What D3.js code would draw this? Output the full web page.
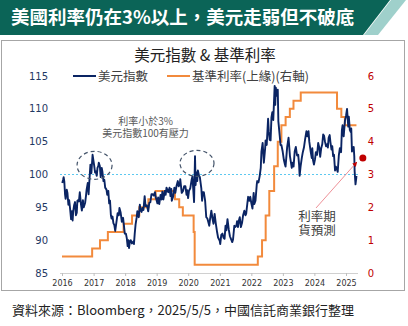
<!DOCTYPE html>
<meta charset="utf-8">
<script src="https://d3js.org/d3.v7.min.js"></script>
<style>
  body { margin: 0; background: #fff; }
  text { font-family: "Noto Sans CJK TC", "Noto Sans", sans-serif; }
</style>
<div id="my_dataviz"></div>

<script>
// US Dollar Index (DXY)
var dxy = [
  // 2016
  ["2016-01-04", 98.7], ["2016-01-14", 99.2], ["2016-01-20", 99.6], ["2016-01-28", 98.9],
  ["2016-02-05", 97.0], ["2016-02-12", 96.3], ["2016-02-25", 97.7], ["2016-03-04", 97.2],
  ["2016-03-15", 95.4], ["2016-03-24", 96.1], ["2016-04-05", 94.6], ["2016-04-15", 93.2],
  ["2016-04-25", 94.4], ["2016-05-03", 93.0], ["2016-05-10", 94.4], ["2016-05-20", 95.3],
  ["2016-05-31", 95.8], ["2016-06-10", 93.8], ["2016-06-20", 94.2], ["2016-06-27", 96.0],
  ["2016-07-08", 96.1], ["2016-07-15", 95.9], ["2016-07-25", 97.3], ["2016-08-08", 95.4],
  ["2016-08-18", 94.5], ["2016-08-30", 96.1], ["2016-09-09", 95.0], ["2016-09-25", 95.7],
  ["2016-10-05", 96.8], ["2016-10-12", 97.7], ["2016-10-25", 98.7], ["2016-11-04", 97.0],
  ["2016-11-20", 100.5], ["2016-11-25", 101.5], ["2016-12-06", 100.2], ["2016-12-20", 103.0],
  // 2017
  ["2017-01-08", 101.3], ["2017-01-18", 100.3], ["2017-01-26", 100.5], ["2017-02-06", 99.8],
  ["2017-02-15", 101.0], ["2017-02-25", 101.3], ["2017-03-02", 101.8], ["2017-03-14", 101.3],
  ["2017-03-24", 99.6], ["2017-04-05", 101.0], ["2017-04-12", 100.5], ["2017-04-25", 99.0],
  ["2017-05-05", 99.2], ["2017-05-15", 98.0], ["2017-05-30", 97.7], ["2017-06-08", 96.9],
  ["2017-06-20", 97.5], ["2017-06-30", 95.6], ["2017-07-10", 96.0], ["2017-07-20", 93.8],
  ["2017-07-28", 93.3], ["2017-08-08", 93.6], ["2017-08-18", 92.6], ["2017-08-29", 92.3],
  ["2017-09-08", 91.4], ["2017-09-25", 93.0], ["2017-10-06", 94.1], ["2017-10-20", 93.8],
  ["2017-10-27", 94.9], ["2017-11-10", 94.2], ["2017-11-24", 92.8], ["2017-12-08", 93.4],
  ["2017-12-15", 92.6], ["2017-12-28", 91.0],
  // 2018
  ["2018-01-10", 91.0], ["2018-01-20", 90.3], ["2018-01-30", 89.1], ["2018-02-08", 90.0],
  ["2018-02-15", 88.8], ["2018-02-25", 89.8], ["2018-03-08", 90.0], ["2018-03-20", 89.5],
  ["2018-04-05", 89.8], ["2018-04-13", 89.4], ["2018-04-22", 91.0], ["2018-05-02", 92.4],
  ["2018-05-15", 93.5], ["2018-05-22", 94.4], ["2018-05-30", 94.0], ["2018-06-08", 93.5],
  ["2018-06-20", 95.4], ["2018-06-28", 94.6], ["2018-07-10", 94.3], ["2018-07-20", 94.9],
  ["2018-08-01", 94.6], ["2018-08-15", 96.7], ["2018-08-25", 95.2], ["2018-09-10", 95.3],
  ["2018-09-25", 94.4], ["2018-10-08", 95.7], ["2018-10-20", 95.8], ["2018-11-02", 97.0],
  ["2018-11-15", 97.0], ["2018-11-28", 96.8], ["2018-12-12", 97.3], ["2018-12-20", 96.6],
  // 2019
  ["2019-01-10", 95.6], ["2019-01-18", 96.5], ["2019-01-31", 95.5], ["2019-02-15", 96.9],
  ["2019-02-28", 96.2], ["2019-03-08", 97.4], ["2019-03-20", 96.2], ["2019-04-05", 97.5],
  ["2019-04-15", 96.9], ["2019-04-25", 98.0], ["2019-05-15", 97.3], ["2019-05-30", 98.0],
  ["2019-06-10", 96.7], ["2019-06-20", 97.8], ["2019-06-25", 96.0], ["2019-07-12", 96.7],
  ["2019-07-25", 98.0], ["2019-08-05", 97.2], ["2019-08-18", 98.2], ["2019-09-03", 99.0],
  ["2019-09-13", 98.2], ["2019-09-28", 98.7], ["2019-10-01", 99.3], ["2019-10-18", 97.2],
  ["2019-11-02", 97.5], ["2019-11-15", 98.2], ["2019-11-30", 98.2], ["2019-12-13", 96.9],
  ["2019-12-20", 97.6], ["2019-12-31", 96.4],
  // 2020
  ["2020-01-10", 97.5], ["2020-01-25", 97.9], ["2020-02-10", 99.2], ["2020-02-19", 99.7],
  ["2020-03-09", 95.8], ["2020-03-20", 102.8], ["2020-03-27", 98.4], ["2020-04-05", 100.3],
  ["2020-04-15", 99.0], ["2020-04-22", 100.6], ["2020-05-05", 99.8], ["2020-05-15", 99.6],
  ["2020-06-01", 97.9], ["2020-06-10", 96.0], ["2020-06-18", 97.3], ["2020-06-30", 97.3],
  ["2020-07-15", 96.0], ["2020-07-28", 93.5], ["2020-08-10", 93.3], ["2020-08-20", 92.8],
  ["2020-09-01", 92.2], ["2020-09-10", 93.2], ["2020-09-25", 94.5], ["2020-10-08", 93.3],
  ["2020-10-20", 92.5], ["2020-11-02", 94.0], ["2020-11-15", 92.6], ["2020-12-01", 91.2],
  ["2020-12-12", 90.4], ["2020-12-31", 89.9],
  // 2021
  ["2021-01-06", 89.4], ["2021-01-18", 90.8], ["2021-02-01", 91.0], ["2021-02-12", 90.4],
  ["2021-02-25", 90.2], ["2021-03-08", 92.2], ["2021-03-18", 91.5], ["2021-03-31", 93.2],
  ["2021-04-15", 91.6], ["2021-04-28", 90.6], ["2021-05-10", 90.2], ["2021-05-25", 89.7],
  ["2021-06-03", 90.1], ["2021-06-18", 92.2], ["2021-06-28", 92.0], ["2021-07-12", 92.2],
  ["2021-07-20", 92.9], ["2021-07-30", 92.0], ["2021-08-10", 93.0], ["2021-08-20", 93.5],
  ["2021-09-02", 92.0], ["2021-09-15", 92.6], ["2021-09-28", 93.8], ["2021-10-12", 94.5],
  ["2021-10-25", 93.8], ["2021-11-02", 94.0], ["2021-11-15", 95.5], ["2021-11-25", 96.6],
  ["2021-12-08", 96.0], ["2021-12-20", 96.6], ["2021-12-31", 95.7],
  // 2022
  ["2022-01-14", 94.8], ["2022-01-28", 97.2], ["2022-02-05", 95.5], ["2022-02-18", 96.0],
  ["2022-03-05", 98.5], ["2022-03-10", 99.0], ["2022-03-25", 98.8], ["2022-04-08", 99.8],
  ["2022-04-20", 101.0], ["2022-04-28", 103.5], ["2022-05-12", 104.8], ["2022-05-26", 101.8],
  ["2022-06-10", 104.0], ["2022-06-15", 105.2], ["2022-06-28", 104.5], ["2022-07-14", 108.5],
  ["2022-07-22", 106.6], ["2022-08-01", 105.3], ["2022-08-12", 105.2], ["2022-08-22", 108.7],
  ["2022-09-01", 109.5], ["2022-09-12", 108.3], ["2022-09-28", 113.5], ["2022-10-05", 110.6],
  ["2022-10-12", 113.2], ["2022-10-20", 112.0], ["2022-11-03", 112.9], ["2022-11-10", 108.1],
  ["2022-11-25", 106.0], ["2022-12-05", 104.5], ["2022-12-15", 104.5], ["2022-12-30", 103.5],
  // 2023
  ["2023-01-13", 102.2], ["2023-01-26", 101.5], ["2023-02-01", 101.2], ["2023-02-20", 104.2],
  ["2023-03-08", 105.6], ["2023-03-24", 102.8], ["2023-04-05", 101.8], ["2023-04-14", 101.0],
  ["2023-04-24", 101.8], ["2023-05-05", 101.2], ["2023-05-18", 103.5], ["2023-05-31", 104.2],
  ["2023-06-14", 102.9], ["2023-06-28", 103.0], ["2023-07-08", 101.5], ["2023-07-14", 99.8],
  ["2023-07-25", 101.2], ["2023-08-08", 102.5], ["2023-08-20", 103.4], ["2023-09-02", 104.1],
  ["2023-09-15", 105.3], ["2023-10-01", 106.6], ["2023-10-10", 105.8], ["2023-10-25", 106.6],
  ["2023-11-03", 105.0], ["2023-11-20", 103.4], ["2023-12-02", 102.5], ["2023-12-08", 104.0],
  ["2023-12-16", 102.2], ["2023-12-27", 101.5],
  // 2024
  ["2024-01-08", 102.3], ["2024-01-18", 103.4], ["2024-02-01", 103.0], ["2024-02-14", 104.8],
  ["2024-02-28", 104.0], ["2024-03-08", 102.7], ["2024-03-20", 104.0], ["2024-04-01", 104.6],
  ["2024-04-12", 106.1], ["2024-04-22", 105.9], ["2024-05-03", 105.0], ["2024-05-15", 104.3],
  ["2024-05-28", 104.6], ["2024-06-05", 104.1], ["2024-06-14", 105.6], ["2024-06-26", 106.0],
  ["2024-07-05", 104.9], ["2024-07-17", 103.8], ["2024-07-26", 104.3], ["2024-08-05", 102.8],
  ["2024-08-15", 103.0], ["2024-08-27", 100.6], ["2024-09-06", 101.2], ["2024-09-18", 100.8],
  ["2024-09-27", 100.4], ["2024-10-10", 102.9], ["2024-10-22", 104.0], ["2024-11-05", 103.4],
  ["2024-11-14", 106.7], ["2024-11-22", 107.5], ["2024-12-05", 105.8], ["2024-12-20", 108.2],
  // 2025
  ["2025-01-02", 109.0], ["2025-01-13", 110.0], ["2025-01-27", 107.3], ["2025-02-03", 108.8],
  ["2025-02-14", 106.8], ["2025-02-24", 106.5], ["2025-03-03", 107.0], ["2025-03-11", 103.5],
  ["2025-03-20", 104.0], ["2025-03-31", 104.2], ["2025-04-07", 102.8], ["2025-04-11", 100.5],
  ["2025-04-21", 98.5], ["2025-04-30", 99.5], ["2025-05-02", 99.8]
];

// Fed funds target, upper bound (%), dates of each change
var rateDates = ["2016-01-01","2016-12-15","2017-03-16","2017-06-15","2017-12-14","2018-03-22",
  "2018-06-14","2018-09-27","2018-12-20","2019-08-01","2019-09-19","2019-10-31","2020-03-04",
  "2020-03-16","2022-03-17","2022-05-05","2022-06-16","2022-07-28","2022-09-22","2022-11-03",
  "2022-12-15","2023-02-02","2023-03-23","2023-05-04","2023-07-27","2024-09-19","2024-11-08",
  "2024-12-19","2025-05-02"];
var rateValues = [0.5,0.75,1,1.25,1.5,1.75,2,2.25,2.5,2.25,2,1.75,1.25,0.25,0.5,1,1.75,2.5,
  3.25,4,4.5,4.75,5,5.25,5.5,5,4.75,4.5,4.5];

// rate futures forecast point
var futures = {date: "2025-07-15", value: 3.5};

var yearTicks = [2016,2017,2018,2019,2020,2021,2022,2023,2024,2025];
var leftTicks = [85,90,95,100,105,110,115];
var rightTicks = [0,1,2,3,4,5,6];

var parse = d3.timeParse("%Y-%m-%d");

var W = 408, H = 326;
var svg = d3.select("#my_dataviz").append("svg")
  .attr("width", W).attr("height", H);

// ---- title banner
svg.append("path")
  .attr("d", "M0,0 L390,0 L363,35 L0,35 Z")
  .attr("fill", "#0b6457");
svg.append("path")
  .attr("d", "M391,0 L406,0 L378,35 L364,35 Z")
  .attr("fill", "#9fd0cb");
svg.append("text")
  .attr("x", 11).attr("y", 24)
  .attr("fill", "#fff")
  .style("font-size", "18.5px").style("font-weight", "bold")
  .text("美國利率仍在3%以上，美元走弱但不破底");

// chart frame
svg.append("rect")
  .attr("x", 1.5).attr("y", 40.5).attr("width", 403).attr("height", 250)
  .attr("fill", "none").attr("stroke", "#a6a6a6");

// ---- scales
var x = d3.scaleTime()
  .domain([new Date(2016, 0, 1), new Date(2025, 0, 1)])
  .range([62, 346]);
var y = d3.scaleLinear().domain([85, 115]).range([273, 76]);
var y2 = d3.scaleLinear().domain([0, 6]).range([273, 76]);

// chart title
svg.append("text")
  .attr("x", 205).attr("y", 61)
  .attr("text-anchor", "middle")
  .attr("fill", "#222")
  .style("font-size", "15.5px")
  .text("美元指數 & 基準利率");

// legend
var legend = [
  {label: "美元指數", color: "#0a2463", x: 73},
  {label: "基準利率(上緣)(右軸)", color: "#f28a3c", x: 167}
];
legend.forEach(function(d) {
  svg.append("line")
    .attr("x1", d.x).attr("x2", d.x + 23).attr("y1", 76).attr("y2", 76)
    .attr("stroke", d.color).attr("stroke-width", 2);
  svg.append("text")
    .attr("x", d.x + 25).attr("y", 80.5)
    .attr("fill", "#404040")
    .style("font-size", "12.5px")
    .text(d.label);
});

// left axis labels
svg.append("g").selectAll("text")
  .data(leftTicks).enter().append("text")
    .attr("x", 48).attr("y", function(d) { return y(d) + 3.5; })
    .attr("text-anchor", "end")
    .attr("fill", "#1f3864")
    .style("font-family", "DejaVu Sans").style("font-size", "10px")
    .text(function(d) { return d; });

// right axis labels
svg.append("g").selectAll("text")
  .data(rightTicks).enter().append("text")
    .attr("x", 371).attr("y", function(d) { return y2(d) + 3.5; })
    .attr("text-anchor", "middle")
    .attr("fill", "#c00000")
    .style("font-family", "DejaVu Sans").style("font-size", "10px")
    .text(function(d) { return d; });

// bottom axis
var xAxis = svg.append("g")
  .attr("transform", "translate(0,273)")
  .call(d3.axisBottom(x)
    .tickValues(yearTicks.map(function(t) { return new Date(t, 0, 1); }))
    .tickFormat(d3.timeFormat("%Y"))
    .tickSize(3).tickSizeOuter(0));
xAxis.select(".domain").attr("stroke", "#d0d0d0").attr("d", "M60,0.5H358");
xAxis.selectAll(".tick line").attr("stroke", "#bfbfbf");
xAxis.selectAll(".tick text")
  .attr("fill", "#333").attr("dy", "0.9em")
  .style("font-family", "DejaVu Sans").style("font-size", "8px");

// reference line at 100
svg.append("line")
  .attr("x1", 60).attr("x2", 358)
  .attr("y1", y(100)).attr("y2", y(100))
  .attr("stroke", "#5cc8f0").attr("stroke-width", 1)
  .attr("stroke-dasharray", "2,2");

// rate step line
var rateData = rateDates.map(function(d, i) { return {date: parse(d), value: rateValues[i]}; });
svg.append("path")
  .datum(rateData)
  .attr("fill", "none")
  .attr("stroke", "#f28a3c").attr("stroke-width", 2)
  .attr("d", d3.line()
    .curve(d3.curveStepAfter)
    .x(function(d) { return x(d.date); })
    .y(function(d) { return y2(d.value); }));

// dollar index line
svg.append("path")
  .datum(dxy)
  .attr("fill", "none")
  .attr("stroke", "#0a2463").attr("stroke-width", 1.9)
  .attr("stroke-linejoin", "round")
  .attr("d", d3.line()
    .x(function(d) { return x(parse(d[0])); })
    .y(function(d) { return y(d[1]); }));

// dashed circles around the 100 tests
var circles = [
  {date: "2017-01-12", value: 101.4, rx: 17.5, ry: 14},
  {date: "2020-04-12", value: 101.7, rx: 17, ry: 13}
];
svg.append("g").selectAll("ellipse")
  .data(circles).enter().append("ellipse")
    .attr("cx", function(d) { return x(parse(d.date)); })
    .attr("cy", function(d) { return y(d.value); })
    .attr("rx", function(d) { return d.rx; })
    .attr("ry", function(d) { return d.ry; })
    .attr("fill", "none")
    .attr("stroke", "#44546a").attr("stroke-width", 1.2)
    .attr("stroke-dasharray", "4,3");

// note
var noteX = x(parse("2018-08-25"));
svg.append("text")
  .attr("x", noteX).attr("y", y(108.1) + 3.5)
  .attr("text-anchor", "middle").attr("fill", "#595959")
  .style("font-size", "10px")
  .text("利率小於3%");
svg.append("text")
  .attr("x", noteX).attr("y", y(106.3) + 3.5)
  .attr("text-anchor", "middle").attr("fill", "#595959")
  .style("font-size", "10px")
  .text("美元指數100有壓力");

// futures dot + arrow
svg.append("defs").append("marker")
  .attr("id", "arr").attr("viewBox", "0 0 10 10")
  .attr("refX", 9).attr("refY", 5)
  .attr("markerWidth", 6).attr("markerHeight", 6)
  .attr("orient", "auto")
  .append("path").attr("d", "M0,0 L10,5 L0,10 Z").attr("fill", "#c00000");

var fx = x(parse(futures.date)), fy = y2(futures.value);
svg.append("line")
  .attr("x1", x(parse("2024-01-20"))).attr("y1", y2(1.98))
  .attr("x2", fx - 6).attr("y2", fy + 4)
  .attr("stroke", "#e8747c").attr("stroke-width", 0.8)
  .attr("marker-end", "url(#arr)");
svg.append("circle")
  .attr("cx", fx).attr("cy", fy).attr("r", 3.5)
  .attr("fill", "#c00000");

var ftX = x(parse("2024-01-30"));
svg.append("text")
  .attr("x", ftX).attr("y", y2(1.72) + 4.5)
  .attr("text-anchor", "middle").attr("fill", "#404040")
  .style("font-size", "12.5px")
  .text("利率期");
svg.append("text")
  .attr("x", ftX).attr("y", y2(1.3) + 4.5)
  .attr("text-anchor", "middle").attr("fill", "#404040")
  .style("font-size", "12.5px")
  .text("貨預測");

// source
svg.append("text")
  .attr("x", 12).attr("y", 315)
  .attr("fill", "#222")
  .style("font-size", "13px")
  .text("資料來源：Bloomberg，2025/5/5，中國信託商業銀行整理");
</script>
